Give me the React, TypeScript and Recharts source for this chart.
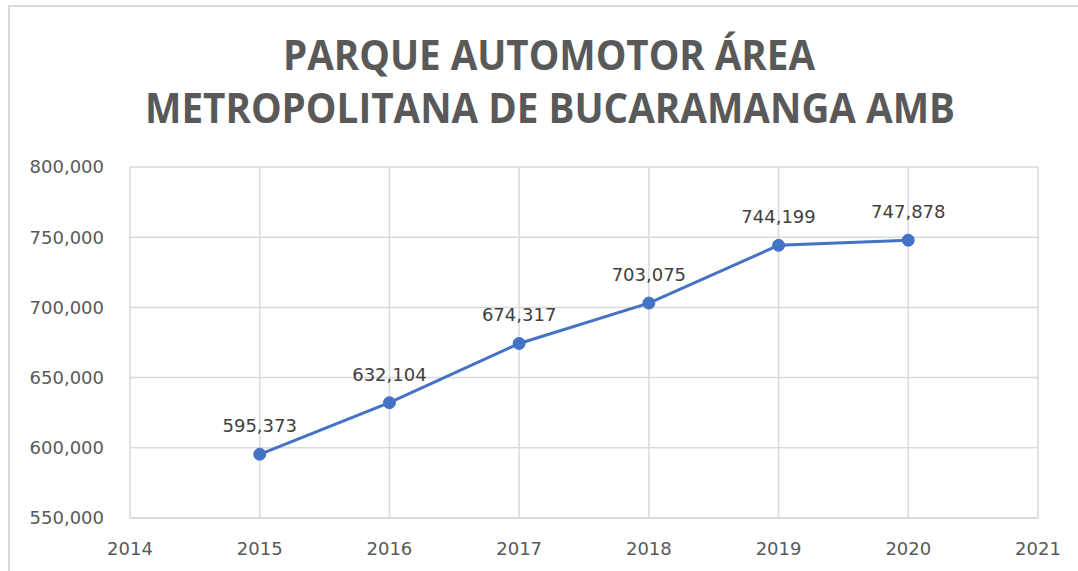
import {
  LineChart,
  Line,
  XAxis,
  YAxis,
  CartesianGrid,
  LabelList,
} from "recharts";

const YEARS = [2015, 2016, 2017, 2018, 2019, 2020];
const VEHICLES = [595373, 632104, 674317, 703075, 744199, 747878];
const X_TICKS = [2014, 2015, 2016, 2017, 2018, 2019, 2020, 2021];
const Y_TICKS = [550000, 600000, 650000, 700000, 750000, 800000];
const TITLE_LINES = ["PARQUE AUTOMOTOR ÁREA", "METROPOLITANA DE BUCARAMANGA AMB"];

const data = YEARS.map((year, i) => ({ year, value: VEHICLES[i] }));

const fmt = (v: number) => v.toLocaleString("en-US");

const GRID = "#d9d9d9";
const TEXT = "#595959";
const BLUE = "#4472C4";

export default function App() {
  return (
    <div
      style={{
        position: "absolute",
        left: 0,
        top: 0,
        width: 1078,
        height: 571,
        background: "#fff",
        overflow: "hidden",
      }}
    >
      {/* frame of the chart box */}
      <div
        style={{
          position: "absolute",
          left: 8,
          top: 5,
          width: 1078,
          height: 571,
          borderLeft: `2px solid ${GRID}`,
          borderTop: `2px solid ${GRID}`,
        }}
      />
      <svg
        width={1078}
        height={160}
        style={{ position: "absolute", left: 0, top: 0 }}
      >
        <text
          x={549}
          y={70}
          textAnchor="middle"
          fill={TEXT}
          fontFamily="'Liberation Sans Narrow', 'Open Sans', sans-serif"
          fontWeight={700}
          fontSize={41}
          textLength={532}
          lengthAdjust="spacingAndGlyphs"
        >
          {TITLE_LINES[0]}
        </text>
        <text
          x={550}
          y={123}
          textAnchor="middle"
          fill={TEXT}
          fontFamily="'Liberation Sans Narrow', 'Open Sans', sans-serif"
          fontWeight={700}
          fontSize={41}
          textLength={810}
          lengthAdjust="spacingAndGlyphs"
        >
          {TITLE_LINES[1]}
        </text>
      </svg>
      <div style={{ position: "absolute", left: 0, top: 0 }}>
        <LineChart
          width={1078}
          height={571}
          data={data}
          margin={{ top: 167, right: 40, left: 0, bottom: 0 }}
        >
          <CartesianGrid stroke={GRID} strokeWidth={1.5} />
          <XAxis
            dataKey="year"
            type="number"
            domain={[2014, 2021]}
            ticks={X_TICKS}
            height={53}
            tickSize={0}
            tickMargin={24}
            axisLine={{ stroke: GRID, strokeWidth: 1.5 }}
            tick={{ fontSize: 18, fill: TEXT, fontFamily: "DejaVu Sans" }}
          />
          <YAxis
            type="number"
            domain={[550000, 800000]}
            ticks={Y_TICKS}
            width={130}
            tickSize={0}
            tickMargin={26}
            axisLine={false}
            tickFormatter={fmt}
            tick={{ fontSize: 18, fill: TEXT, fontFamily: "DejaVu Sans" }}
          />
          <Line
            type="linear"
            dataKey="value"
            stroke={BLUE}
            strokeWidth={3}
            dot={{ r: 6, fill: BLUE, stroke: BLUE, strokeWidth: 1 }}
            isAnimationActive={false}
          >
            <LabelList
              dataKey="value"
              position="top"
              offset={22}
              formatter={(v: number) => fmt(v)}
              style={{ fontSize: 18, fill: "#404040", fontFamily: "DejaVu Sans" }}
            />
          </Line>
        </LineChart>
      </div>
    </div>
  );
}
